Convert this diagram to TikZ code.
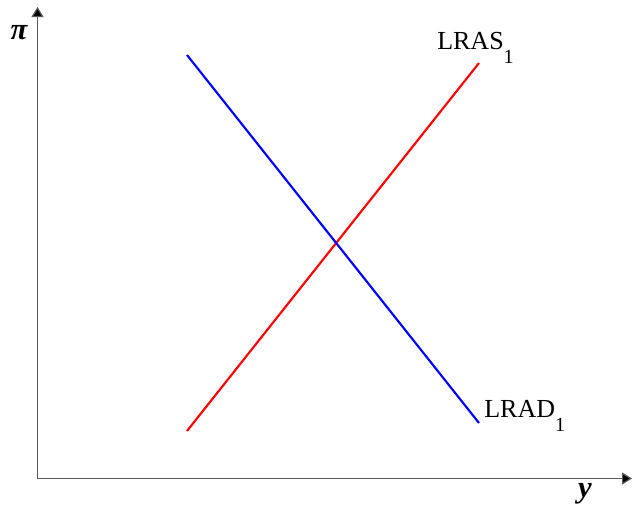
\documentclass[tikz,border=0pt]{standalone}
\usepackage{fontspec}
\setmainfont{Liberation Serif}
\usetikzlibrary{arrows.meta}
\tikzset{
  axis/.style={draw=black!65, line width=0.9pt, -{Triangle[length=7.5pt,width=9pt,fill=black]}},
  curve/.style={line width=1.6pt},
  lbl/.style={font=\fontsize{19.5}{22}\selectfont, inner sep=0pt},
  axlbl/.style={font=\fontsize{23}{24}\selectfont\bfseries\itshape, inner sep=0pt}
}
\newcommand{\mysub}[1]{\raisebox{-10.5pt}{\fontsize{15}{16}\selectfont #1}}
\begin{document}
\begin{tikzpicture}[x=0.75pt,y=-0.75pt]
\useasboundingbox (0,0) rectangle (632,507);
\coordinate (O) at (37.5,478.5);
\coordinate (Ytop) at (37.5,7);
\coordinate (Xend) at (632,478.5);
\draw[axis] (O) -- (Ytop);
\draw[axis] (O) -- (Xend);
\node[axlbl] (pi) at (19,33) {π};
\node[axlbl] (ylab) at (585,494) {y};
\coordinate (as1) at (187,431);
\coordinate (as2) at (479,63);
\coordinate (ad1) at (187,55);
\coordinate (ad2) at (479,423);
\draw[curve, draw={rgb,255:red,255;green,0;blue,0}] (as1) -- (as2);
\draw[curve, draw={rgb,255:red,0;green,0;blue,255}] (ad1) -- (ad2);
\node[lbl, anchor=base west] (lras) at (437,49) {LRAS\mysub{1}};
\node[lbl, anchor=base west] (lrad) at (484,417) {LRAD\mysub{1}};
\end{tikzpicture}
\end{document}
